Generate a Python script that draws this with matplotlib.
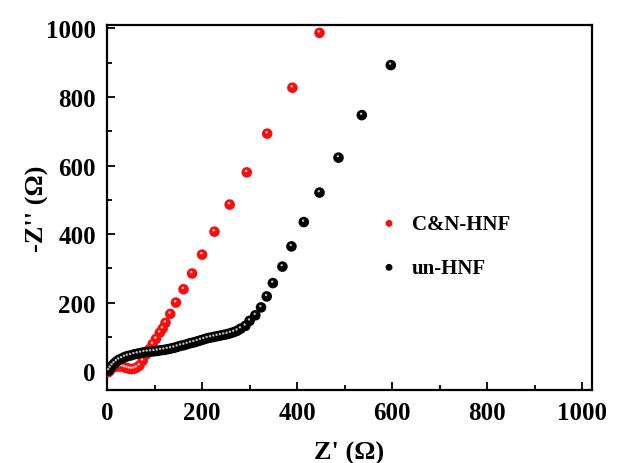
import matplotlib
matplotlib.use("Agg")
import matplotlib.pyplot as plt
from matplotlib.transforms import offset_copy
from matplotlib.ticker import MultipleLocator

plt.rcParams["font.family"] = ["Liberation Serif", "DejaVu Serif"]
plt.rcParams["font.weight"] = "bold"

# Nyquist data
cn_x = [3, 6, 9, 13, 17, 22, 27, 32, 37, 42, 47, 52, 57, 62, 68, 75, 82, 89,
        96, 103, 111, 117, 123, 133, 145, 161, 179, 200, 226, 258, 294, 337,
        390, 447]
cn_y = [-3, 2, 7, 11, 13, 14, 14, 13, 11, 9, 7, 6, 7, 10, 16, 30, 48, 64,
        79, 94, 112, 124, 141, 167, 200, 239, 285, 340, 407, 486, 580, 693,
        827, 987]

un_x = [4, 7, 11, 15, 20, 25, 31, 37, 43, 50, 57, 64, 71, 78, 85, 92, 99,
        106, 113, 120, 127, 134, 141, 148, 155, 162, 169, 176, 183, 190, 197,
        204, 211, 218, 225, 232, 239, 246, 253, 260, 267, 274, 281, 291, 300,
        312, 324, 336, 349, 369, 388, 414, 447, 487, 536, 597]
un_y = [2, 9, 16, 22, 28, 33, 37, 41, 44, 46, 49, 51, 53, 55, 56, 57, 58,
        59, 61, 62, 64, 66, 68, 71, 74, 76, 79, 82, 84, 87, 90, 93, 96, 98,
        100, 102, 104, 106, 108, 111, 114, 118, 124, 132, 147, 163, 186, 218,
        257, 305, 364, 435, 521, 623, 747, 893]

fig = plt.figure(figsize=(6.24, 4.64), dpi=100)
ax = fig.add_axes([0.1715, 0.1573, 0.777, 0.7867])

ms = 58
ax.scatter(cn_x, cn_y, s=ms, color="#f51010", edgecolors="none", zorder=3,
           label="C&N-HNF")
ax.scatter(un_x, un_y, s=ms, color="black", edgecolors="none", zorder=4,
           label="un-HNF")

# small glossy highlight so the dots look like little balls
hl = offset_copy(ax.transData, fig=fig, x=-0.5, y=1.0, units="points")
ax.scatter(cn_x, cn_y, s=3, color="#ffc8c8", edgecolors="none", zorder=3.5,
           transform=hl)
ax.scatter(un_x, un_y, s=3, color="#bbbbbb", edgecolors="none", zorder=4.5,
           transform=hl)

ax.set_xlim(0, 1020)
ax.set_ylim(-55, 1010)
ax.xaxis.set_major_locator(MultipleLocator(200))
ax.xaxis.set_minor_locator(MultipleLocator(100))
ax.yaxis.set_major_locator(MultipleLocator(200))
ax.yaxis.set_minor_locator(MultipleLocator(100))
ax.tick_params(which="both", direction="in", top=False, right=False,
               width=1.3, labelsize=18, pad=8)
ax.tick_params(which="major", length=6)
ax.tick_params(which="minor", length=3.5)
for sp in ax.spines.values():
    sp.set_linewidth(1.6)

ax.set_xlabel("Z' (\u03a9)", fontsize=19, fontweight="bold", labelpad=12)
ax.set_ylabel("-Z'' (\u03a9)", fontsize=19, fontweight="bold", labelpad=-2)

ax.legend(loc="center left", bbox_to_anchor=(0.5, 0.395), frameon=False,
          labelspacing=1.15, handletextpad=0.1, markerscale=0.65,
          prop={"weight": "bold", "size": 15})

fig.savefig("out.png", dpi=100)
